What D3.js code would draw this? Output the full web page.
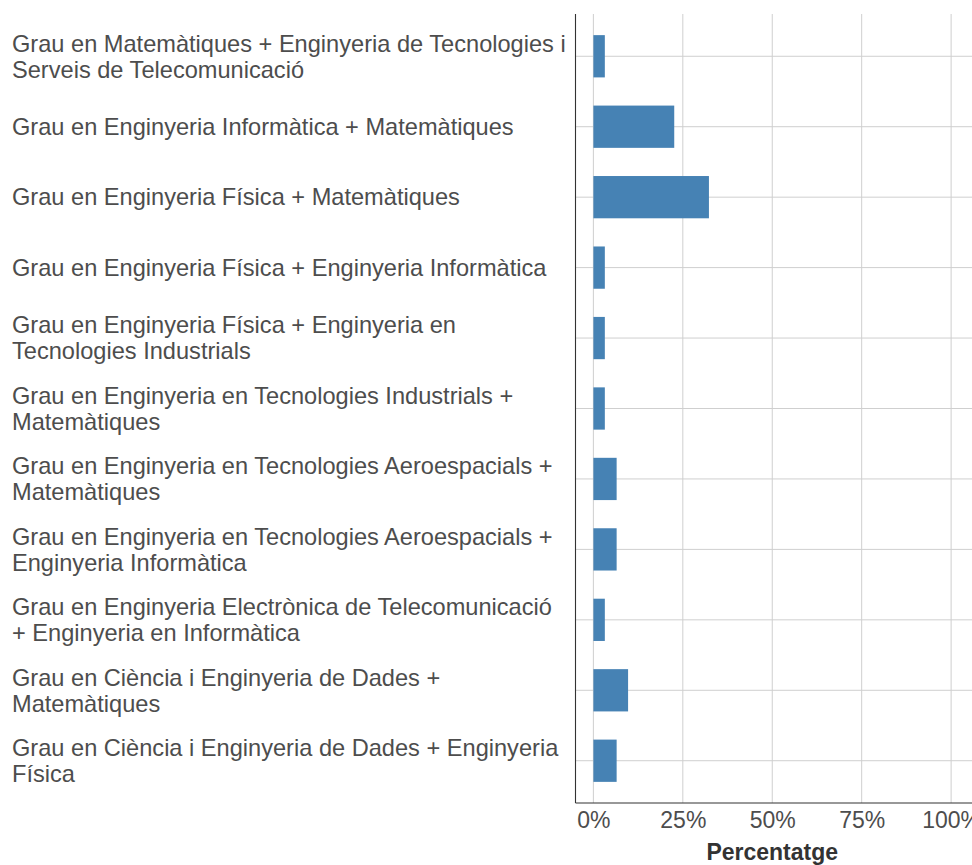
<!DOCTYPE html>
<html>
<head>
<meta charset="utf-8">
<script src="https://cdn.jsdelivr.net/npm/d3@7"></script>
<style>
  body { margin: 0; background: #fff; }
  text { font-family: "Liberation Sans", Arial, Helvetica, sans-serif; }
</style>
</head>
<body>
<svg width="972" height="865"></svg>
<script>
// categories (line breaks as in the picture)
var categories = [
  "Grau en Matemàtiques + Enginyeria de Tecnologies i\nServeis de Telecomunicació",
  "Grau en Enginyeria Informàtica + Matemàtiques",
  "Grau en Enginyeria Física + Matemàtiques",
  "Grau en Enginyeria Física + Enginyeria Informàtica",
  "Grau en Enginyeria Física + Enginyeria en\nTecnologies Industrials",
  "Grau en Enginyeria en Tecnologies Industrials +\nMatemàtiques",
  "Grau en Enginyeria en Tecnologies Aeroespacials +\nMatemàtiques",
  "Grau en Enginyeria en Tecnologies Aeroespacials +\nEnginyeria Informàtica",
  "Grau en Enginyeria Electrònica de Telecomunicació\n+ Enginyeria en Informàtica",
  "Grau en Ciència i Enginyeria de Dades +\nMatemàtiques",
  "Grau en Ciència i Enginyeria de Dades + Enginyeria\nFísica"
];
// percentatge
var values = [3.2, 22.6, 32.3, 3.2, 3.2, 3.2, 6.5, 6.5, 3.2, 9.7, 6.5];
var xTicks = [0, 25, 50, 75, 100];

var svg = d3.select("svg");

var pLeft = 575.5, pRight = 969, pTop = 14, pBottom = 803;

var x = d3.scaleLinear().domain([-5, 105]).range([pLeft, pRight]);
var y = d3.scalePoint().domain(categories).range([pTop, pBottom]).padding(0.6);
var barH = y.step() * 0.6;

// grid
var grid = svg.append("g");
grid.selectAll("line.v")
  .data(xTicks)
  .enter().append("line")
  .attr("x1", function(d) { return x(d); })
  .attr("x2", function(d) { return x(d); })
  .attr("y1", pTop).attr("y2", pBottom)
  .attr("stroke", "#cfcfcf").attr("stroke-width", 1);
grid.selectAll("line.h")
  .data(categories)
  .enter().append("line")
  .attr("x1", pLeft).attr("x2", 972)
  .attr("y1", function(d) { return y(d); })
  .attr("y2", function(d) { return y(d); })
  .attr("stroke", "#cfcfcf").attr("stroke-width", 1);

// bars
svg.append("g").selectAll("rect")
  .data(values)
  .enter().append("rect")
  .attr("x", x(0))
  .attr("y", function(d, i) { return y(categories[i]) - barH / 2; })
  .attr("width", function(d) { return x(d) - x(0); })
  .attr("height", barH)
  .attr("fill", "#4682b4");

// axes
var xAxis = svg.append("g")
  .attr("transform", "translate(0," + pBottom + ")")
  .call(d3.axisBottom(x).tickValues(xTicks).tickSize(0).tickPadding(9)
    .tickFormat(function(d) { return d + "%"; }));
xAxis.select(".domain").attr("stroke", "#333").attr("stroke-width", 1.1)
  .attr("d", "M" + pLeft + ",0H972");
xAxis.selectAll("text").attr("font-size", 23).attr("fill", "#4d4d4d")
  .style("font-family", "'Liberation Sans', Arial, sans-serif");

svg.append("line")
  .attr("x1", pLeft).attr("x2", pLeft)
  .attr("y1", pTop).attr("y2", pBottom)
  .attr("stroke", "#333").attr("stroke-width", 1.1);

// y labels
var labels = svg.append("g").selectAll("text")
  .data(categories)
  .enter().append("text")
  .attr("x", 12)
  .attr("font-size", 23.6)
  .attr("fill", "#4d4d4d")
  .each(function(d) {
    var lines = d.split("\n");
    var lh = 26;
    var y0 = y(d) - (lines.length - 1) * lh / 2;
    var t = d3.select(this);
    lines.forEach(function(l, i) {
      t.append("tspan").attr("x", 12).attr("y", y0 + i * lh)
        .attr("dy", "0.35em").text(l);
    });
  });

// axis title
svg.append("text")
  .attr("x", (pLeft + pRight) / 2)
  .attr("y", 860)
  .attr("text-anchor", "middle")
  .attr("font-size", 23)
  .attr("font-weight", "bold")
  .attr("fill", "#333")
  .text("Percentatge");
</script>
</body>
</html>
